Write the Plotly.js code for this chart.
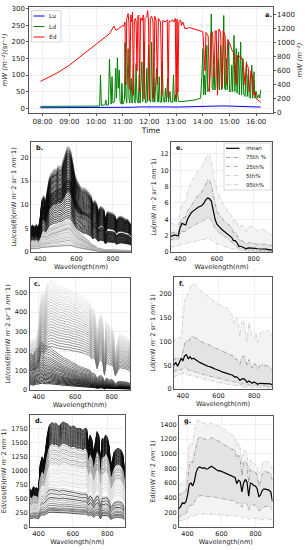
<!DOCTYPE html>
<html><head><meta charset="utf-8">
<script src="https://cdn.plot.ly/plotly-3.0.1.min.js"></script>
<style>html,body{margin:0;padding:0;background:#fff;}#chart{width:305px;height:550px;}</style>
</head><body><div id="chart"></div>
<script>
// ---------- panel a : time series ----------
const day = '2019-06-01 ';
const edTimes = [
 '07:55','08:30','09:00','09:30','10:00','10:15','10:30','10:40','10:45','10:50',
 '10:55','11:00','11:03','11:05','11:07','11:09','11:12','11:14','11:16','11:18',
 '11:20','11:22','11:24','11:26','11:28','11:30','11:32','11:34','11:36','11:38',
 '11:40','11:44','11:46','11:48','11:50','11:54','11:56','11:58','12:00','12:02',
 '12:05','12:08','12:10','12:12','12:15','12:18','12:20','12:25','12:28','12:30',
 '12:35','12:40','12:42','12:44','12:48','12:52','12:55','12:58','13:00','13:02',
 '13:04','13:06','13:10','13:12','13:15','13:20','13:30','13:40','13:50','14:00',
 '14:05','14:07','14:12','14:15','14:18','14:22','14:25','14:28','14:30','14:33',
 '14:36','14:40','14:43','14:46','14:50','14:53','14:56','15:00','15:05','15:10',
 '15:15','15:18','15:25','15:30','15:35','15:38','15:42','15:45','15:48','15:52',
 '15:55','15:58','16:00','16:05','16:10'];
const edValues = [
 450,560,680,830,970,1050,1130,1240,1180,1200,
 1230,1250,1240,1300,400,1350,1420,1280,330,1400,
 1300,1440,250,1300,1350,1310,600,1380,1400,300,
 1360,1320,1400,200,1350,1380,1460,1300,180,1350,
 1380,1300,200,1380,1320,400,1350,1300,250,1320,
 1300,1330,220,1310,1310,1330,1300,1350,200,1340,
 300,1300,1330,1250,1300,1200,1220,1200,1180,1160,
 600,1150,1100,300,1130,1160,500,1170,1180,250,
 1200,1150,350,1180,1100,400,1050,1000,900,850,
 400,820,800,750,400,700,650,300,600,500,
 250,300,200,180,150];
const ldTimes = [
 '07:55','08:30','09:00','09:30','10:00','10:08','10:10','10:12','10:20','10:22',
 '10:24','10:28','10:30','10:32','10:34','10:36','10:38','10:42','10:44','10:46',
 '10:48','10:50','10:52','10:54','10:57','10:58','11:00','11:04','11:05','11:07',
 '11:09','11:12','11:14','11:16','11:19','11:21','11:24','11:26','11:28','11:30',
 '11:32','11:35','11:37','11:39','11:43','11:45','11:48','11:50','11:52','11:54',
 '11:56','11:58','12:00','12:03','12:05','12:07','12:08','12:10','12:12','12:16',
 '12:18','12:20','12:22','12:24','12:27','12:29','12:31','12:34','12:36','12:38',
 '12:41','12:43','12:46','12:48','12:52','12:54','12:56','12:58','13:00','13:03',
 '13:05','13:15','13:30','13:45','13:50','13:55','13:58','14:00','14:02','14:04',
 '14:06','14:09','14:11','14:14','14:17','14:19','14:21','14:23','14:25','14:27',
 '14:29','14:31','14:33','14:35','14:37','14:40','14:42','14:44','14:47','14:49',
 '14:51','14:53','14:55','14:58','15:00','15:03','15:05','15:07','15:10','15:12',
 '15:15','15:17','15:20','15:22','15:25','15:27','15:30','15:32','15:35','15:38',
 '15:40','15:42','15:44','15:47','15:50','15:52','15:55','15:57','16:00','16:03',
 '16:06','16:08','16:10'];
const ldValues = [
 5,5,5,5,5,6,100,8,10,25,
 8,10,148,40,12,95,15,20,120,30,
 152,60,115,20,12,75,12,25,198,40,
 15,180,30,15,90,15,130,20,15,135,
 25,15,100,15,140,20,200,30,15,120,
 20,190,25,18,200,30,18,90,18,120,
 20,18,95,18,18,140,20,18,60,18,
 90,18,50,18,18,100,20,40,18,60,
 20,20,22,25,28,30,100,180,40,100,
 40,190,50,60,120,285,60,55,120,55,
 60,200,60,150,55,190,55,60,280,60,
 55,150,55,200,50,50,130,50,220,50,
 180,45,170,40,200,40,150,40,35,140,
 35,100,35,30,130,30,110,30,50,30,
 40,30,55];
const luTimes = ['07:55','08:30','09:00','09:30','10:00','10:10','10:20','10:40','11:00','11:20','11:40','12:00','12:20',
 '12:40','13:00','13:20','13:40','14:00','14:20','14:30','14:45','15:00','15:20','15:40','16:00','16:10'];
const luValues = [1,1,1,1.2,1.5,3,2,3,3,2.5,3.5,4,3,3.5,3,4,5,5,6,7,6.5,6,5,4.5,3,3];

// ---------- spectra (wavelength grid) ----------
const wl = [350,360,370,380,390,400,410,420,430,440,450,460,470,480,490,500,510,520,530,540,
 550,560,570,580,590,600,610,620,630,640,650,660,670,680,690,700,710,720,730,740,
 750,760,770,780,790,800,810,820,830,840,850,860,870,880,890,900];

// b. Lu/cos spectra : shapes and scale factors
const bHigh = [5.5,5.8,5.4,5.9,5.0,7.0,11.2,12.0,10.8,13.8,15.6,16.6,17.2,17.6,17.4,18.3,18.0,18.4,19.8,21.3,
 22.3,22.2,21.2,19.0,16.6,15.4,14.6,14.0,13.6,13.5,13.4,13.0,12.6,12.0,10.4,11.0,10.4,8.8,9.6,9.6,
 9.2,7.0,8.6,8.5,8.3,8.2,7.9,6.8,7.4,7.6,7.5,7.3,7.0,7.0,6.5,5.8];
const bMid = [3.8,4.0,3.8,4.1,3.6,4.6,6.6,7.0,6.4,7.6,8.4,8.8,9.1,9.3,9.3,9.7,9.7,9.9,10.3,10.8,
 11.0,11.0,10.5,9.4,8.2,7.6,7.1,6.7,6.3,6.0,6.0,5.7,5.4,5.1,4.2,4.6,4.2,3.4,3.8,3.8,
 3.6,2.6,3.2,3.2,3.1,3.1,3.0,2.5,2.8,2.9,2.9,2.8,2.7,2.7,2.5,2.2];
const bLow = [3.2,3.4,3.2,3.5,3.0,4.3,4.6,4.7,4.4,4.9,5.1,5.3,5.5,5.7,5.8,6.0,6.1,6.3,6.5,6.8,
 7.0,7.0,6.6,5.9,5.2,4.8,4.4,4.0,3.6,3.3,3.0,2.7,2.3,2.0,1.5,1.4,1.1,0.8,0.8,0.7,
 0.6,0.4,0.5,0.5,0.5,0.5,0.45,0.35,0.4,0.4,0.4,0.38,0.35,0.35,0.3,0.3];
const bHighK = [1.0,0.985,0.97,0.955,0.94,0.925,0.91,0.895,0.88,0.865,0.85,0.835,0.82,0.805,0.79,0.775,0.76,
 0.745,0.73,0.715,0.7,0.685,0.67,0.655,0.64,0.625,0.61,0.595,0.58];
const bMidK = [1.38,1.34,1.3,1.26,1.22,1.18,1.14,1.1,1.06,1.02,0.98,0.94,0.9,0.86,0.82,0.78,0.74,0.7,0.66];
const bLowK = [1.0,0.95,0.9,0.85,0.8,0.75,0.7,0.65,0.6,0.55,0.5,0.45,0.4,0.35,0.3,0.25,0.21];

// c. Ld/cos spectra
const cHigh = [240,250,265,255,270,330,455,500,470,520,548,558,562,556,545,540,535,528,530,522,
 516,520,512,505,500,500,495,490,485,480,470,460,455,445,400,420,380,270,360,390,
 360,190,350,340,320,322,290,180,240,280,285,280,275,270,262,235];
const cLow = [50,55,50,58,62,62,70,72,65,68,64,65,62,60,58,55,53,51,50,48,
 47,46,44,42,41,40,38,36,35,34,33,32,31,30,25,26,23,17,21,22,
 20,12,18,17,15,16,14,9,12,13,13,12,12,12,11,10];
const cHighK = [1.0,0.975,0.95,0.925,0.9,0.875,0.85,0.825,0.8,0.775,0.75,0.725,0.7,0.675,0.65,0.625,0.6,
 0.575,0.55,0.525,0.5,0.475,0.45,0.425,0.4];
const cLowK = [3.4,3.2,3.0,2.8,2.6,2.45,2.3,2.15,2.0,1.88,1.76,1.64,1.52,1.4,1.3,1.2,1.1,1.0,0.9,0.8,0.7,0.6,0.5];

// d. Ed/cos spectra
const dTop = [680,640,720,690,700,640,1120,1250,1180,1350,1620,1790,1840,1860,1830,1850,1820,1790,1840,1870,
 1860,1850,1830,1800,1780,1800,1790,1760,1750,1760,1740,1720,1760,1750,1480,1640,1560,1300,1500,1700,
 1640,1100,1580,1560,1640,1600,1450,1080,1200,1340,1380,1400,1390,1370,1300,1050];
const dLow = [210,200,220,215,220,200,270,290,280,300,330,345,350,350,345,345,340,335,340,345,
 340,338,335,330,325,325,322,318,315,315,310,305,310,305,260,290,275,230,265,290,
 280,190,270,265,275,270,245,180,200,225,230,235,232,228,215,170];
const dTopK = [1.0,0.99,0.98,0.97,0.96,0.95,0.94,0.93,0.92,0.91,0.9,0.89,0.88,0.87,0.86,0.85,0.84,0.83,0.82,0.81,
 0.8,0.78,0.76,0.74,0.72,0.7,0.68,0.66,0.64,0.62,0.6,0.58,0.56,0.54,0.52,0.5,0.48,0.46,0.44,0.42,0.4];
const dLowK = [2.0,1.9,1.8,1.7,1.6,1.5,1.4,1.3,1.2,1.1,1.0,0.95,0.9,0.85,0.8,0.75];

// e. Lu statistics
const eMean = [1.9,2.0,2.1,2.0,2.0,3.0,3.5,3.4,3.3,4.0,4.5,4.8,5.0,5.2,5.3,5.5,5.6,5.7,6.0,6.4,
 6.6,6.5,6.2,5.0,4.0,3.4,3.1,2.9,2.7,2.5,2.4,2.2,2.0,1.8,1.4,1.4,1.1,0.7,0.7,0.6,
 0.55,0.4,0.5,0.5,0.5,0.5,0.45,0.4,0.4,0.4,0.4,0.35,0.35,0.3,0.3,0.2];
const e95 = [3.5,3.4,3.3,3.3,3.2,5.0,5.8,6.0,6.3,7.4,8.0,8.5,8.9,9.3,9.6,10.0,10.2,10.5,11.0,11.5,
 11.9,11.8,11.0,9.6,8.4,7.5,7.0,6.5,6.0,5.6,5.3,4.9,4.7,4.5,3.6,4.0,3.5,2.9,3.2,3.2,
 3.0,2.5,3.0,3.2,3.1,3.0,2.8,2.5,2.7,2.8,2.8,2.6,2.5,2.4,2.2,2.0];
const e75 = [2.3,2.4,2.4,2.3,2.3,3.6,4.1,4.2,4.3,5.0,5.4,5.7,6.0,6.3,6.6,7.0,7.1,7.4,7.8,8.3,
 8.8,8.7,8.2,7.0,5.8,5.0,4.6,4.3,4.0,3.8,3.6,3.4,3.2,3.0,2.3,2.4,2.0,1.5,1.4,1.3,
 1.2,0.9,1.1,1.2,1.1,1.1,1.0,0.9,1.0,1.0,1.0,0.95,0.9,0.9,0.85,0.8];
const e25 = [1.5,1.6,1.6,1.6,1.5,2.2,2.5,2.5,2.5,2.8,3.0,3.1,3.2,3.3,3.4,3.5,3.6,3.7,3.9,4.1,
 4.2,4.1,3.9,3.3,2.9,2.6,2.4,2.2,2.0,1.9,1.8,1.6,1.4,1.2,0.9,0.8,0.6,0.4,0.4,0.35,
 0.3,0.2,0.25,0.25,0.2,0.2,0.2,0.15,0.15,0.15,0.15,0.12,0.12,0.1,0.1,0.1];
const e5 = [0.6,0.7,0.7,0.7,0.7,0.95,1.0,1.0,1.0,1.1,1.2,1.2,1.3,1.3,1.35,1.4,1.45,1.5,1.55,1.6,
 1.65,1.6,1.5,1.3,1.15,1.05,0.95,0.85,0.75,0.7,0.6,0.55,0.5,0.45,0.35,0.3,0.25,0.15,0.15,0.12,
 0.1,0.08,0.08,0.08,0.07,0.07,0.06,0.05,0.05,0.05,0.05,0.05,0.05,0.05,0.05,0.05];

// f. Ld statistics
const fMean = [50,56,48,58,64,60,70,72,64,68,63,65,62,60,57,55,53,51,50,48,
 47,46,44,42,41,40,38,36,35,34,33,31,30,29,25,26,23,18,21,22,
 19,14,17,15,12,15,13,10,12,12,12,12,12,11,11,9];
const f95 = [98,106,108,110,105,140,185,200,198,212,220,222,218,215,212,208,204,200,198,195,
 192,190,186,183,180,178,176,174,173,172,170,165,160,152,138,150,140,110,140,145,
 118,100,140,122,110,105,118,98,115,120,121,120,122,124,118,112];
const f75 = [60,66,64,66,62,78,96,102,100,106,110,110,108,105,103,100,98,96,95,94,
 92,90,88,86,85,84,82,80,78,77,75,73,71,70,62,64,58,52,65,70,
 60,50,62,50,45,55,50,42,48,52,51,50,49,48,45,40];
const f25 = [35,40,38,42,40,42,45,44,40,40,38,37,36,34,33,32,31,30,29,28,
 27,26,25,24,23.5,23,22,21,20,19,18,17,16.5,16,14,14,13,10,11,11,
 10,7,9,9,8.5,8,7.5,6,7,7,7,6.5,6,6,5.5,5];
const f5 = [25,28,30,31,30,35,34,32,30,29,28,27,26,24,23,22,21,20,19,18.5,
 18,17,16,15,14.5,14,13,12,11.5,11,10,9.5,9,8.5,7.5,7,6.5,5,5.5,5.5,
 5,3.5,4.5,4.2,4,4,3.7,3,3.3,3.3,3,2.8,2.6,2.5,2.3,2];

// g. Ed statistics
const gMean = [250,280,330,320,340,430,580,600,560,620,740,800,820,815,800,810,790,795,810,830,
 815,800,790,765,770,760,745,740,730,725,705,695,690,675,590,640,620,480,600,650,
 610,420,600,590,565,560,520,410,440,500,520,520,510,500,480,350];
const g95 = [560,590,610,620,620,850,1100,1150,1130,1300,1400,1450,1460,1440,1420,1420,1400,1390,1410,1420,
 1410,1400,1390,1370,1360,1350,1340,1330,1310,1300,1280,1260,1250,1220,1100,1150,1080,860,1050,1040,
 1000,750,920,880,860,850,800,700,760,860,900,900,890,880,850,780];
const g75 = [430,450,470,480,480,620,850,900,880,1000,1130,1200,1230,1220,1200,1200,1190,1180,1200,1220,
 1210,1200,1190,1170,1160,1150,1130,1120,1110,1100,1080,1060,1060,1040,930,980,930,700,880,900,
 860,600,780,760,750,750,700,560,620,720,760,760,750,740,720,640];
const g25 = [130,150,170,170,180,230,290,300,290,330,390,420,430,430,425,420,415,410,412,415,
 410,405,400,395,392,390,385,380,375,372,368,362,360,355,310,340,320,270,320,330,
 310,230,300,305,300,298,280,220,240,265,275,280,280,278,265,230];
const g5 = [80,90,100,100,105,120,145,150,148,160,170,178,180,180,178,178,176,175,176,176,
 175,173,171,168,166,165,163,161,160,159,158,156,155,153,135,148,140,120,135,140,
 132,100,125,125,124,122,115,90,100,108,112,112,111,110,105,90];

// ---------- tick / label texts ----------
const specTicks = [400,600,800];
const statsLegend = ['mean','75th %','25th%','5th%','95th%'];
const seriesNames = ['Lu','Ld','Ed'];

// ---------- drawing ----------
const W = 305, H = 550;
const px = v => v / W;
const py = v => 1 - v / H;
const FONT = 'DejaVu Sans, sans-serif';
const traces = [];
const gray = g => `rgb(${g},${g},${g})`;

traces.push({type:'scatter',mode:'lines',name:'Lu',x:luTimes.map(t=>day+t),y:luValues,xaxis:'x',yaxis:'y',line:{color:'#0000ff',width:1},showlegend:false});
traces.push({type:'scatter',mode:'lines',name:'Ld',x:ldTimes.map(t=>day+t),y:ldValues,xaxis:'x',yaxis:'y',line:{color:'#008000',width:1},showlegend:false});
traces.push({type:'scatter',mode:'lines',name:'Ed',x:edTimes.map(t=>day+t),y:edValues,xaxis:'x',yaxis:'y2',line:{color:'#ff0000',width:1},showlegend:false});

function addSpectra(shape, ks, xa, ya, shade) {
  ks.forEach((k, i) => {
    traces.push({type:'scatter',mode:'lines',x:wl,y:shape.map(v=>v*k),xaxis:xa,yaxis:ya,
      line:{color:gray(shade(i,k)),width:0.8},hoverinfo:'skip',showlegend:false});
  });
}
const cyc = (arr) => (i) => arr[i % arr.length];
// b
addSpectra(bLow, bLowK, 'x2','y3', cyc([200,170,190,150,210,180,120,200,165,190]));
addSpectra(bMid, bMidK, 'x2','y3', cyc([20,0,40,10,0,30,0,20,50,0,30]));
addSpectra(bHigh, bHighK, 'x2','y3', (i)=> i<4 ? [150,110,70,40][i] : [0,20,0,30,10][i%5]);
// c
addSpectra(cHigh, cHighK, 'x4','y5', (i)=> 228 - i*5);
addSpectra(cLow, cLowK, 'x4','y5', (i)=> Math.max(0, 100 - i*5));
// d
addSpectra(dLow, dLowK, 'x6','y7', cyc([190,40,180,60,200,30,150,170,120,90,140,100,110,80]));
addSpectra(dTop, dTopK, 'x6','y7', (i,k)=> k>=0.8 ? [0,20,0,35,10][i%5] : (k>=0.6 ? [180,150,205,130][i%4] : [215,228,205,232][i%4]));

function addStats(xa, ya, p5, p95, p25, p75, mean) {
  const base = {type:'scatter',mode:'lines',x:wl,xaxis:xa,yaxis:ya,hoverinfo:'skip',showlegend:false};
  const dd = '4px,1.5px,1px,1.5px';
  traces.push({...base,y:p5,line:{color:'#c0c0c0',width:0.8,dash:dd}});
  traces.push({...base,y:p95,fill:'tonexty',fillcolor:'#f3f3f3',line:{color:'#c8c8c8',width:0.8,dash:dd}});
  traces.push({...base,y:p25,line:{color:'#9a9a9a',width:0.8,dash:dd}});
  traces.push({...base,y:p75,fill:'tonexty',fillcolor:'#e3e3e3',line:{color:'#8a8a8a',width:0.8,dash:dd}});
  traces.push({...base,y:mean,line:{color:'#000000',width:1.2}});
}
addStats('x3','y4', e5, e95, e25, e75, eMean);
addStats('x5','y6', f5, f95, f25, f75, fMean);
addStats('x7','y8', g5, g95, g25, g75, gMean);

const tickF = {size:6.5,color:'#222',family:FONT};
const titleF = {size:6.5,color:'#222',family:FONT};
const frame = {showline:true,mirror:true,linecolor:'#555',linewidth:1,showgrid:true,gridcolor:'#e6e6e6',gridwidth:0.6,
  zeroline:false,automargin:false,tickfont:tickF,fixedrange:true};

function specX(x0,x1,anchor){
  return {...frame,domain:[px(x0),px(x1)],anchor,range:[350,900],tickvals:specTicks,ticks:'',
    title:{text:'Wavelength(nm)',font:titleF,standoff:2}};
}
function specY(y0,y1,anchor,range,dtick,label){
  return {...frame,domain:[py(y1),py(y0)],anchor,range,dtick,ticks:'',
    title:{text:label,font:titleF,standoff:3}};
}
const lab3 = 'mW <i>m</i>⁻2 <i>sr</i>⁻1 <i>nm</i>⁻1)';
const lab2 = 'mW <i>m</i>⁻2 <i>nm</i>⁻1)';

const layout = {
  width:W,height:H,margin:{l:0,r:0,t:0,b:0},paper_bgcolor:'#fff',plot_bgcolor:'#fff',
  font:{family:FONT,color:'#222'},showlegend:false,
  xaxis:{...frame,domain:[px(29.3),px(272.7)],anchor:'y',type:'date',
    range:[day+'07:30',day+'16:37'],tick0:day+'08:00',dtick:3600000,tickformat:'%H:%M',
    ticks:'outside',ticklen:2,tickcolor:'#555',tickfont:{...tickF,size:7},
    title:{text:'Time',font:{...titleF,size:7.5},standoff:2}},
  yaxis:{...frame,domain:[py(112.7),py(7.3)],anchor:'x',range:[-14,305],dtick:50,
    ticks:'outside',ticklen:2,tickcolor:'#555',tickfont:{...tickF,size:7},
    title:{text:'<i>mW (m⁻²)(sr⁻¹)</i>',font:{...titleF,size:7},standoff:3}},
  yaxis2:{...frame,showgrid:false,mirror:false,overlaying:'y',side:'right',anchor:'x',range:[0,1510],dtick:200,
    ticks:'outside',ticklen:2,tickcolor:'#555',tickfont:{...tickF,size:7},
    title:{text:'<i>mW (m⁻²)</i>',font:{...titleF,size:7},standoff:3}},
  xaxis2:specX(31,131,'y3'),
  yaxis3:specY(142,252,'x2',[0,23.3],5,'Lu/cos(θ)('+lab3),
  xaxis3:specX(171,272,'y4'),
  yaxis4:specY(142,252,'x3',[0,13.45],2,'Lu('+lab3),
  xaxis4:specX(29.5,130,'y5'),
  yaxis5:specY(278,390,'x4',[0,575],100,'Ld/cos(θ)('+lab3),
  xaxis5:specX(174,272,'y6'),
  yaxis6:specY(277,389,'x5',[0,236],50,'Ld('+lab3),
  xaxis6:specX(30,124.5,'y7'),
  yaxis7:specY(415,527,'x6',[0,1995],250,'Ed/cos(θ)('+lab2),
  xaxis7:specX(179,272.5,'y8'),
  yaxis8:specY(416,527,'x7',[0,1515],200,'Ed('+lab2),
  shapes:[], annotations:[]
};

// panel letters
[['a.',263,15],['b.',34,148],['e.',174,148],['c.',32,284],['f.',177,284],['d.',33,421],['g.',182,421]].forEach(([t,x,y])=>{
  layout.annotations.push({text:'<b>'+t+'</b>',x:px(x),y:py(y),xref:'paper',yref:'paper',xanchor:'left',yanchor:'middle',
    showarrow:false,font:{size:6.5,color:'#111',family:FONT}});
});

// legend of panel a
layout.shapes.push({type:'rect',xref:'paper',yref:'paper',x0:px(31.5),x1:px(61),y0:py(42),y1:py(10.5),
  fillcolor:'rgba(255,255,255,0.85)',line:{color:'#cccccc',width:0.8},layer:'above'});
const aCols = ['#0000ff','#008000','#ff0000'];
seriesNames.forEach((n,i)=>{
  const yy = 16 + i*10.5;
  layout.shapes.push({type:'line',xref:'paper',yref:'paper',x0:px(33.5),x1:px(44.5),y0:py(yy),y1:py(yy),line:{color:aCols[i],width:1},layer:'above'});
  layout.annotations.push({text:n,x:px(47),y:py(yy),xref:'paper',yref:'paper',xanchor:'left',yanchor:'middle',showarrow:false,
    font:{size:6,color:'#222',family:FONT}});
});

// legend of panel e
layout.shapes.push({type:'rect',xref:'paper',yref:'paper',x0:px(224),x1:px(271),y0:py(190),y1:py(143),
  fillcolor:'rgba(255,255,255,0.85)',line:{color:'#cccccc',width:0.8},layer:'above'});
const dd = '4px,1.5px,1px,1.5px';
const legStyles = [{color:'#000',width:1.2},{color:'#8a8a8a',width:0.8,dash:dd},
  {color:'#9a9a9a',width:0.8,dash:dd},{color:'#c0c0c0',width:0.8,dash:dd},{color:'#c8c8c8',width:0.8,dash:dd}];
statsLegend.forEach((n,i)=>{
  const yy = 148.3 + i*9.1;
  layout.shapes.push({type:'line',xref:'paper',yref:'paper',x0:px(226),x1:px(239.5),y0:py(yy),y1:py(yy),line:legStyles[i],layer:'above'});
  layout.annotations.push({text:n,x:px(243.5),y:py(yy),xref:'paper',yref:'paper',xanchor:'left',yanchor:'middle',showarrow:false,
    font:{size:5.6,color:'#222',family:FONT}});
});

Plotly.newPlot('chart', traces, layout, {staticPlot:true, displayModeBar:false});
</script>
</body></html>
